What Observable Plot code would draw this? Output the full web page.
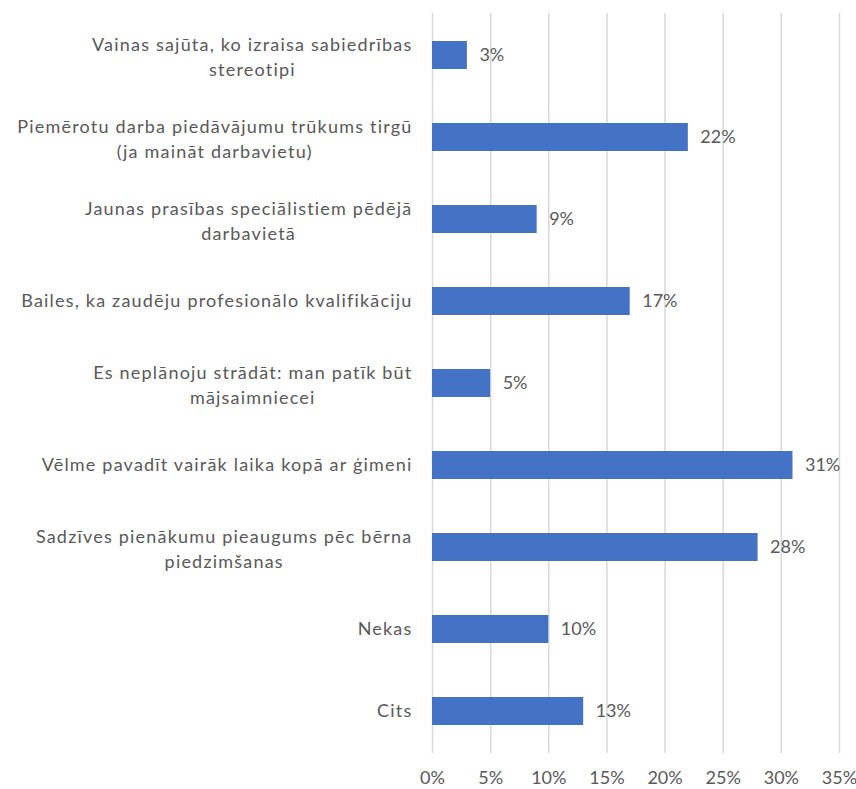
<!DOCTYPE html>
<html>
<head>
<meta charset="utf-8">
<script src="https://cdn.jsdelivr.net/npm/d3@7"></script>
<script src="https://cdn.jsdelivr.net/npm/@observablehq/plot@0.6"></script>
<style>
  html, body { margin: 0; padding: 0; background: #fff; }
  #chart svg { display: block; }
  .catlabel text { letter-spacing: 1.2px; }
</style>
</head>
<body>
<div id="chart"></div>
<script>
const categories = [
  "Vainas sajūta, ko izraisa sabiedrības stereotipi",
  "Piemērotu darba piedāvājumu trūkums tirgū (ja maināt darbavietu)",
  "Jaunas prasības speciālistiem pēdējā darbavietā",
  "Bailes, ka zaudēju profesionālo kvalifikāciju",
  "Es neplānoju strādāt: man patīk būt mājsaimniecei",
  "Vēlme pavadīt vairāk laika kopā ar ģimeni",
  "Sadzīves pienākumu pieaugums pēc bērna piedzimšanas",
  "Nekas",
  "Cits"
];
const labelLines = [
  ["Vainas sajūta, ko izraisa sabiedrības", "stereotipi"],
  ["Piemērotu darba piedāvājumu trūkums tirgū", "(ja maināt darbavietu)"],
  ["Jaunas prasības speciālistiem pēdējā", "darbavietā"],
  ["Bailes, ka zaudēju profesionālo kvalifikāciju"],
  ["Es neplānoju strādāt: man patīk būt", "mājsaimniecei"],
  ["Vēlme pavadīt vairāk laika kopā ar ģimeni"],
  ["Sadzīves pienākumu pieaugums pēc bērna", "piedzimšanas"],
  ["Nekas"],
  ["Cits"]
];
const values = [3, 22, 9, 17, 5, 31, 28, 10, 13];
const xTicks = [0, 5, 10, 15, 20, 25, 30, 35];

const data = categories.map((c, i) => ({cat: c, value: values[i]}));

const FONT = "Lato";
const FS = 18;
const LS = 1.2;
const textColor = "#595959";
const canvas = document.createElement("canvas");
const ctx = canvas.getContext("2d");
ctx.font = `${FS}px ${FONT}`;
const measure = s => ctx.measureText(s).width + LS * [...s].length;

const lineH = 25;
const gap = 20;
const labelMarks = [];
labelLines.forEach((lines, i) => {
  const widths = lines.map(measure);
  const W = Math.max(...widths);
  lines.forEach((line, j) => {
    labelMarks.push(Plot.text([{cat: categories[i], t: line}], {
      x: () => 0,
      y: "cat",
      text: "t",
      textAnchor: "end",
      dx: -gap - (W - widths[j]) / 2,
      dy: (j - (lines.length - 1) / 2) * lineH + (lines.length > 1 ? 2 : 0),
      fill: textColor,
      fontSize: FS,
      fontFamily: FONT,
      className: "catlabel"
    }));
  });
});

const chart = Plot.plot({
  width: 856,
  height: 789,
  marginLeft: 432,
  marginRight: 17,
  marginTop: 13,
  marginBottom: 36,
  style: {fontFamily: FONT, fontSize: FS + "px", color: textColor, background: "#fff"},
  x: {domain: [0, 35], ticks: xTicks, tickFormat: d => d + "%", tickSize: 0, tickPadding: 18, label: null},
  y: {domain: categories, padding: 0, axis: null},
  marks: [
    Plot.ruleX(xTicks, {stroke: "#d9d9d9", strokeWidth: 1.5}),
    Plot.barX(data, {y: "cat", x: "value", fill: "#4472C4", insetTop: 27, insetBottom: 27}),
    Plot.text(data, {y: "cat", x: "value", text: d => d.value + "%", textAnchor: "start", dx: 12, fill: textColor, fontSize: FS, fontFamily: FONT}),
    ...labelMarks
  ]
});
document.getElementById("chart").append(chart);
</script>
</body>
</html>
